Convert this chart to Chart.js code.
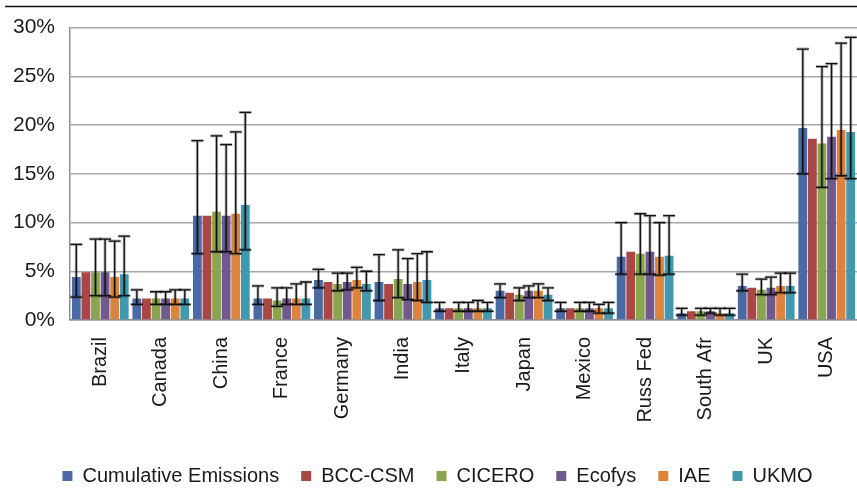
<!DOCTYPE html>
<html>
<head>
<meta charset="utf-8">
<script src="https://cdn.jsdelivr.net/npm/chart.js@4.4.1/dist/chart.umd.min.js"></script>
<style>
  html, body { margin: 0; padding: 0; background: #fff; }
  #wrap { width: 857px; height: 488px; }
</style>
</head>
<body>
<div id="wrap"><canvas id="chart" width="857" height="488"></canvas></div>
<script>
const categories = ['Brazil', 'Canada', 'China', 'France', 'Germany', 'India', 'Italy', 'Japan', 'Mexico', 'Russ Fed', 'South Afr', 'UK', 'USA'];
const yTicks = [0, 5, 10, 15, 20, 25, 30];

// share of warming, % (bar value, error low, error high)
const cumulative     = [4.4, 2.2, 10.7, 2.2, 4.1, 3.9, 1.2, 3.0, 1.2, 6.5, 0.7, 3.5, 19.7];
const cumulativeLow  = [2.35, 1.6, 6.8, 1.6, 3.3, 2.0, 0.9, 2.3, 0.9, 4.7, 0.5, 3.0, 15.0];
const cumulativeHigh = [7.75, 3.1, 18.4, 3.5, 5.2, 6.7, 1.8, 3.7, 1.8, 10.0, 1.2, 4.7, 27.8];

const bccCsm = [4.9, 2.2, 10.7, 2.2, 3.9, 3.7, 1.2, 2.8, 1.2, 7.0, 0.9, 3.3, 18.6];

const cicero     = [4.9, 2.2, 11.1, 2.0, 3.7, 4.2, 1.2, 2.6, 1.2, 6.8, 0.9, 3.1, 18.1];
const ciceroLow  = [2.5, 1.6, 7.0, 1.4, 3.0, 2.3, 0.9, 2.0, 0.9, 4.7, 0.5, 2.6, 13.6];
const ciceroHigh = [8.3, 2.9, 18.9, 3.3, 4.8, 7.2, 1.8, 3.3, 1.8, 10.9, 1.2, 4.2, 26.0];

const ecofys     = [4.9, 2.2, 10.7, 2.2, 3.9, 3.7, 1.2, 3.0, 1.2, 7.0, 0.9, 3.3, 18.8];
const ecofysLow  = [2.5, 1.6, 7.0, 1.6, 3.1, 2.1, 0.9, 2.3, 0.9, 4.7, 0.7, 2.6, 14.5];
const ecofysHigh = [8.3, 2.9, 18.0, 3.3, 4.8, 6.3, 1.8, 3.5, 1.8, 10.7, 1.2, 4.4, 26.3];

const iae     = [4.4, 2.2, 10.9, 2.2, 4.1, 3.9, 1.2, 3.0, 1.2, 6.5, 0.7, 3.5, 19.5];
const iaeLow  = [2.35, 1.6, 6.8, 1.6, 3.3, 2.0, 0.9, 2.3, 0.7, 4.6, 0.5, 2.8, 14.8];
const iaeHigh = [8.1, 3.1, 19.3, 3.7, 5.4, 6.8, 2.0, 3.7, 1.6, 10.0, 1.2, 4.8, 28.4];

const ukmo     = [4.7, 2.2, 11.8, 2.2, 3.7, 4.1, 1.2, 2.6, 1.2, 6.6, 0.7, 3.5, 19.3];
const ukmoLow  = [2.5, 1.6, 7.2, 1.6, 3.0, 1.8, 0.9, 2.0, 0.7, 4.7, 0.5, 2.8, 14.5];
const ukmoHigh = [8.6, 3.1, 21.3, 3.9, 5.0, 7.0, 1.8, 3.3, 1.8, 10.7, 1.2, 4.8, 29.0];

const FONT = "'Liberation Sans', Arial, sans-serif";
const TEXT = '#1a1a1a';
const GRID = '#a8a8a8';

function series(label, data, color, low, high) {
  return {
    label, data,
    backgroundColor: color,
    borderWidth: 0,
    errLow: low || null,
    errHigh: high || null,
    categoryPercentage: 0.95,
    barPercentage: 0.92
  };
}

// draws whiskers from errLow/errHigh on each bar
const errorBars = {
  id: 'errorBars',
  afterDatasetsDraw(chart) {
    const { ctx, scales: { y } } = chart;
    chart.data.datasets.forEach((ds, di) => {
      if (!ds.errLow) return;
      const meta = chart.getDatasetMeta(di);
      meta.data.forEach((bar, i) => {
        const lo = ds.errLow[i], hi = ds.errHigh[i];
        if (lo == null || hi == null) return;
        const yLo = y.getPixelForValue(lo);
        const yHi = y.getPixelForValue(hi);
        const half = 6;
        ctx.save();
        ctx.lineCap = 'butt';
        // soft grey halo like the original
        ctx.strokeStyle = 'rgba(0,0,0,0.3)';
        ctx.lineWidth = 3;
        ctx.beginPath();
        ctx.moveTo(bar.x, yLo); ctx.lineTo(bar.x, yHi);
        ctx.moveTo(bar.x - half, yHi); ctx.lineTo(bar.x + half, yHi);
        ctx.moveTo(bar.x - half, yLo); ctx.lineTo(bar.x + half, yLo);
        ctx.stroke();
        ctx.strokeStyle = '#111';
        ctx.lineWidth = 1.3;
        ctx.beginPath();
        ctx.moveTo(bar.x, yLo); ctx.lineTo(bar.x, yHi);
        ctx.moveTo(bar.x - half, yHi); ctx.lineTo(bar.x + half, yHi);
        ctx.moveTo(bar.x - half, yLo); ctx.lineTo(bar.x + half, yLo);
        ctx.stroke();
        ctx.restore();
      });
    });
  }
};

// thin rule across the top of the picture, and legend nudged right like the original
const frame = {
  id: 'frame',
  afterLayout(chart) {
    if (chart.legend) {
      chart.legend.left += 9;
      chart.legend.right += 9;
    }
  },
  beforeDraw(chart) {
    const ctx = chart.ctx;
    ctx.save();
    ctx.strokeStyle = '#111';
    ctx.lineWidth = 1.5;
    ctx.beginPath();
    ctx.moveTo(5, 6.5);
    ctx.lineTo(chart.width, 6.5);
    ctx.stroke();
    ctx.restore();
  }
};

new Chart(document.getElementById('chart'), {
  type: 'bar',
  data: {
    labels: categories,
    datasets: [
      series('Cumulative Emissions', cumulative, '#4a6aa6', cumulativeLow, cumulativeHigh),
      series('BCC-CSM', bccCsm, '#aa4643'),
      series('CICERO', cicero, '#89a54e', ciceroLow, ciceroHigh),
      series('Ecofys', ecofys, '#71588f', ecofysLow, ecofysHigh),
      series('IAE', iae, '#db843d', iaeLow, iaeHigh),
      series('UKMO', ukmo, '#4198af', ukmoLow, ukmoHigh)
    ]
  },
  options: {
    responsive: false,
    animation: false,
    devicePixelRatio: 1,
    layout: { padding: { top: 25, right: 0, left: 0, bottom: -8 } },
    plugins: {
      tooltip: { enabled: false },
      legend: {
        position: 'bottom',
        labels: {
          font: { family: FONT, size: 20 },
          color: TEXT,
          boxWidth: 10,
          boxHeight: 10,
          padding: 22
        }
      }
    },
    scales: {
      x: {
        grid: { display: false, drawTicks: false },
        border: { color: '#909090', width: 1.5 },
        ticks: {
          font: { family: FONT, size: 20 },
          color: TEXT,
          minRotation: 90,
          maxRotation: 90,
          padding: 17,
          autoSkip: false
        },
        afterFit(scale) {
          scale.height = 124;
          scale.paddingLeft = 0;
          scale.paddingRight = 0;
        }
      },
      y: {
        min: 0,
        max: 30,
        afterBuildTicks(scale) { scale.ticks = yTicks.map(v => ({ value: v })); },
        grid: { color: GRID, lineWidth: 1.5, drawTicks: false },
        border: { color: '#909090', width: 1.5 },
        ticks: {
          font: { family: FONT, size: 21 },
          color: TEXT,
          padding: 15,
          callback: v => v + '%'
        },
        afterFit(scale) { scale.width = 70; }
      }
    }
  },
  plugins: [errorBars, frame]
});
</script>
</body>
</html>
